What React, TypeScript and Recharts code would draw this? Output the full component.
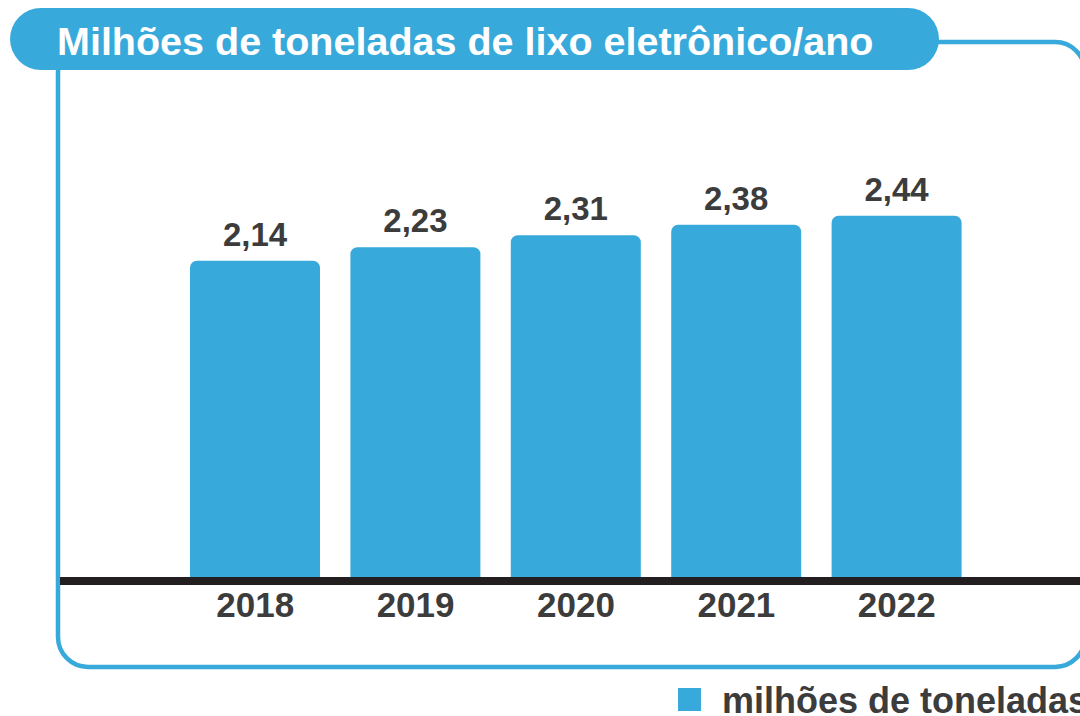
import { BarChart, Bar, XAxis, YAxis, LabelList, ReferenceLine } from 'recharts';

const years = ['2018', '2019', '2020', '2021', '2022'];
const tonnes = [2.14, 2.23, 2.31, 2.38, 2.44];
const title = 'Milhões de toneladas de lixo eletrônico/ano';
const seriesName = 'milhões de toneladas';

const BLUE = '#38a9db';
const INK = '#3c3c3c';
const FONT = '"Liberation Sans", Arial, Helvetica, sans-serif';

const data = years.map((year, i) => ({ year, value: tonnes[i] }));

const fmt = (v: number) => v.toFixed(2).replace('.', ',');

// box, title pill and legend sit in a plain svg behind the chart
function Frame() {
  return (
    <svg width={1080} height={716} style={{ position: 'absolute', left: 0, top: 0 }}>
      <rect x={58} y={42} width={1027} height={625} rx={30} fill="none" stroke={BLUE} strokeWidth={4.5} />
      <rect x={10} y={8} width={929} height={62} rx={31} fill={BLUE} />
      <text x={57} y={55} fill="#fff" fontSize={39.5} fontWeight={700} fontFamily={FONT}>
        {title}
      </text>
      <rect x={678} y={688} width={23} height={23} fill={BLUE} />
      <text x={722} y={713} fill={INK} fontSize={36} fontWeight={700} fontFamily={FONT}>
        {seriesName}
      </text>
    </svg>
  );
}

export default function App() {
  return (
    <div
      style={{
        position: 'absolute',
        left: 0,
        top: 0,
        width: 1080,
        height: 716,
        overflow: 'hidden',
        background: '#fff',
      }}
    >
      <Frame />
      <div style={{ position: 'absolute', left: 0, top: 0 }}>
        <BarChart width={1080} height={716} data={data} margin={{ top: 132, right: 0, bottom: 105, left: 60 }}>
          <XAxis
            dataKey="year"
            height={30}
            interval={0}
            axisLine={false}
            tickLine={false}
            tickSize={0}
            tickMargin={11}
            padding={{ left: 115, right: 103 }}
            tick={{ fill: INK, fontSize: 35, fontWeight: 700, fontFamily: FONT }}
          />
          <YAxis hide domain={[0, 3]} />
          <Bar
            dataKey="value"
            name={seriesName}
            fill={BLUE}
            barSize={130}
            radius={[7, 7, 0, 0]}
            isAnimationActive={false}
          >
            <LabelList
              dataKey="value"
              position="top"
              offset={15}
              formatter={(v: any) => fmt(Number(v))}
              fill={INK}
              fontSize={33}
              fontWeight={700}
              fontFamily={FONT}
            />
          </Bar>
          <ReferenceLine y={0} stroke="#231f20" strokeWidth={8} />
        </BarChart>
      </div>
    </div>
  );
}
